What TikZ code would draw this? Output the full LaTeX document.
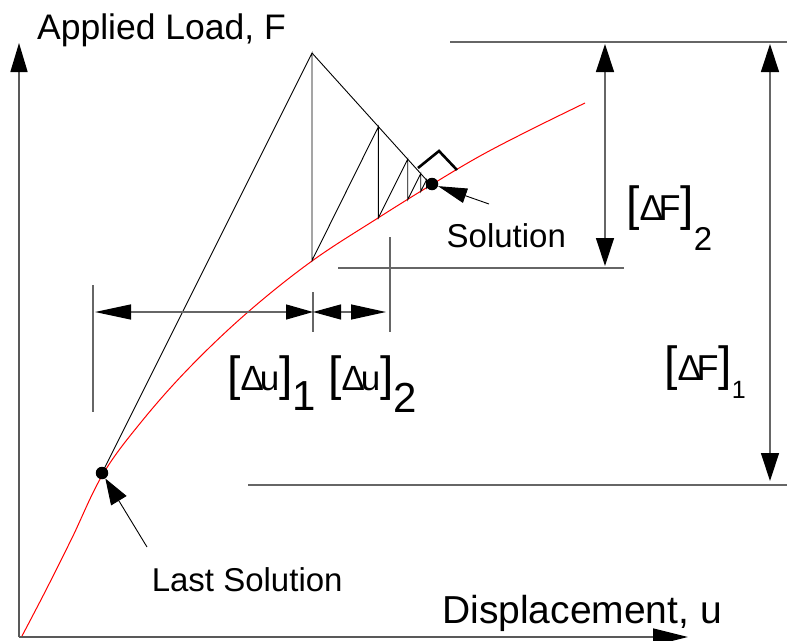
\documentclass[tikz,border=0pt]{standalone}
\usepackage{fontspec}
\setmainfont{Liberation Sans}
\usetikzlibrary{arrows.meta}
\newcommand\bkt[1]{{\fontsize{48}{48}\selectfont #1}}
\newcommand\fsz[1]{\fontsize{#1}{#1}\selectfont}
\begin{document}
\begin{tikzpicture}[x=1pt,y=-1pt,
  axis/.style={draw=black!65,line width=1.5pt},
  ext/.style={draw=black!60,line width=1.3pt},
  con/.style={draw=black,line width=0.9pt},
  curve/.style={draw=red,line width=1pt},
  dimline/.style={draw=black!60,line width=1.3pt},
  lbl/.style={inner sep=0pt,anchor=base west},
  dot/.style={fill=black,circle,inner sep=0pt,minimum size=12.5pt},
  vtip/.tip={Triangle[length=28pt,width=18pt,color=black]},
]
\useasboundingbox (0,0) rectangle (787,640);

% axes
\coordinate (O) at (19,637);
\coordinate (Ytip) at (19,43);
\coordinate (Xtip) at (688,637);
\draw[axis,-{Triangle[length=29pt,width=17pt,color=black]}] (O) -- (Ytip);
\draw[axis,-{Triangle[length=35pt,width=17pt,color=black]}] (O) -- (Xtip);
\node[lbl,font=\fsz{35.5}] (ylabel) at (37,39) {Applied Load, F};
\node[lbl,font=\fsz{39}] (xlabel) at (442,623) {Displacement, u};

% load-displacement curve
\draw[curve] plot[smooth,tension=0.6] coordinates {(22,636) (46,590) (72,538) (103,474) (142,421) (190,367) (248,312) (312,261) (378,218) (431,185) (480,156) (530,130) (585,103)};

% iteration construction
\coordinate (c0) at (312,260.5);
\coordinate (t0) at (312,53);
\coordinate (t1) at (378.4,126.7);
\coordinate (c1) at (378.4,217.9);
\coordinate (t2) at (407.75,159.2);
\coordinate (c2) at (407.75,199.6);
\coordinate (t3) at (420.72,173.6);
\coordinate (c3) at (420.72,191.4);
\coordinate (t4) at (426.46,180.0);
\coordinate (c4) at (426.46,187.8);
\coordinate (t5) at (428.99,182.8);
\coordinate (c5) at (428.99,186.3);
\coordinate (t6) at (430.11,184.0);
\coordinate (c6) at (430.11,185.6);
\coordinate (S) at (431,185);

\node[dot] (last) at (102,473) {};
\draw[con] (last.center) -- (t0) -- (c0) -- (t1) -- (c1) -- (t2) -- (c2) -- (t3) -- (c3) -- (t4) -- (c4) -- (t5) -- (c5) -- (t6) -- (c6);
\draw[con] (t0) -- (S);
\node[dot] (sol) at (432,184) {};

% right angle mark
\coordinate (ra1) at (418,168);
\coordinate (ra2) at (439,151);
\coordinate (ra3) at (457,170);
\draw[line width=2.6pt] (ra1) -- (ra2) -- (ra3);

% leaders
\coordinate (solTail) at (489,204);
\draw[con,-{Triangle[length=29pt,width=15pt]}] (solTail) -- (sol);
\node[lbl,font=\fsz{33}] (soltext) at (446.5,247) {Solution};
\coordinate (lastTail) at (147,547);
\draw[con,-{Triangle[length=26pt,width=18pt]}] (lastTail) -- (last);
\node[lbl,font=\fsz{33}] (lasttext) at (151.6,591) {Last Solution};

% extension lines
\coordinate (topL) at (450,42);
\coordinate (topR) at (787,42);
\draw[ext] (topL) -- (topR);
\coordinate (f2L) at (338,268);
\coordinate (f2R) at (624,268);
\draw[ext] (f2L) -- (f2R);
\coordinate (f1L) at (248,485);
\coordinate (f1R) at (787,485);
\draw[ext] (f1L) -- (f1R);
\coordinate (u0a) at (93,285);
\coordinate (u0b) at (93,412);
\draw[ext] (u0a) -- (u0b);
\coordinate (u1a) at (313,292);
\coordinate (u1b) at (313,332);
\draw[ext] (u1a) -- (u1b);
\coordinate (u2a) at (390,237);
\coordinate (u2b) at (390,332);
\draw[ext] (u2a) -- (u2b);

% dimension arrows
\coordinate (f2t) at (605,44);
\coordinate (f2b) at (605,266);
\draw[dimline,vtip-vtip] (f2t) -- (f2b);
\coordinate (f1t) at (770,44);
\coordinate (f1b) at (770,481);
\draw[dimline,vtip-vtip] (f1t) -- (f1b);
\coordinate (du0) at (95,312);
\coordinate (du1) at (313,312);
\coordinate (du2) at (386,312);
\draw[dimline,{Triangle[length=36pt,width=15pt,color=black]}-{Triangle[length=27pt,width=15pt,color=black]}] (du0) -- (du1);
\draw[dimline,{Triangle[length=28pt,width=15pt,color=black]}-{Triangle[length=35pt,width=15pt,color=black]}] (du1) -- (du2);

% dimension labels
\node[lbl] (lu1) at (227,390) {\bkt{[}\fsz{35}Δ\kern-4pt u\bkt{]}\raisebox{-20pt}{\fsz{42}1}};
\node[lbl] (lu2) at (328,390) {\bkt{[}\fsz{35}Δ\kern-4pt u\bkt{]}\raisebox{-22pt}{\fsz{42}2}};
\node[lbl] (lf2) at (626,220) {\bkt{[}\fsz{36}Δ\kern-5pt F\bkt{]}\raisebox{-30pt}{\fsz{33}2}};
\node[lbl] (lf1) at (664,380) {\bkt{[}\fsz{36}Δ\kern-5pt F\bkt{]}\raisebox{-18pt}{\fsz{25}1}};
\end{tikzpicture}
\end{document}
